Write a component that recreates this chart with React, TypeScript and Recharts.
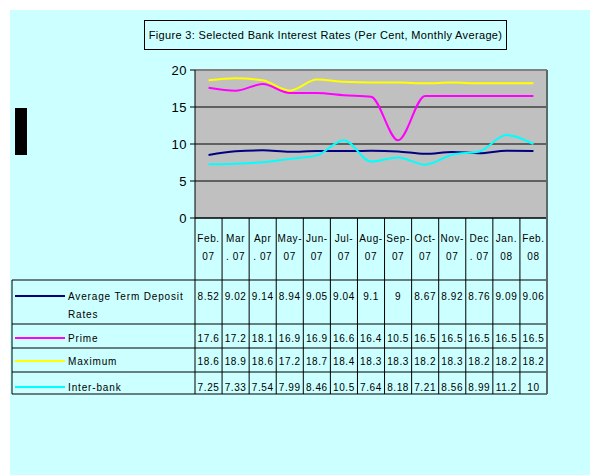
import React from "react";
import { LineChart, Line, XAxis, YAxis, CartesianGrid, ReferenceLine } from "recharts";

const categories = ["Feb. 07", "Mar. 07", "Apr. 07", "May-07", "Jun-07", "Jul-07", "Aug-07", "Sep-07", "Oct-07", "Nov-07", "Dec. 07", "Jan. 08", "Feb. 08"];
const headerTop = ["Feb.", "Mar", "Apr", "May-", "Jun-", "Jul-", "Aug-", "Sep-", "Oct-", "Nov-", "Dec", "Jan.", "Feb."];
const headerBottom = ["07", ". 07", ". 07", "07", "07", "07", "07", "07", "07", "07", ". 07", "08", "08"];

const avgTermDeposit = [8.52, 9.02, 9.14, 8.94, 9.05, 9.04, 9.1, 9, 8.67, 8.92, 8.76, 9.09, 9.06];
const prime = [17.6, 17.2, 18.1, 16.9, 16.9, 16.6, 16.4, 10.5, 16.5, 16.5, 16.5, 16.5, 16.5];
const maximum = [18.6, 18.9, 18.6, 17.2, 18.7, 18.4, 18.3, 18.3, 18.2, 18.3, 18.2, 18.2, 18.2];
const interbank = [7.25, 7.33, 7.54, 7.99, 8.46, 10.5, 7.64, 8.18, 7.21, 8.56, 8.99, 11.2, 10];

const seriesNames = [["Average Term Deposit", "Rates"], ["Prime"], ["Maximum"], ["Inter-bank"]];
const seriesKeys = ["avg", "prime", "max", "inter"];
const seriesColors = ["#000080", "#FF00FF", "#FFFF00", "#00FFFF"];
const seriesValues = [avgTermDeposit, prime, maximum, interbank];
const yTicks = [0, 5, 10, 15, 20];

const data = categories.map((c, i) => ({
  cat: c,
  avg: avgTermDeposit[i],
  prime: prime[i],
  max: maximum[i],
  inter: interbank[i],
}));

const FONT = "'Liberation Sans', Arial, sans-serif";
const CHART_W = 590;
const CHART_H = 475;
const PLOT_LEFT = 195;
const PLOT_RIGHT = 547;
const PLOT_TOP = 70;
const PLOT_BOTTOM = 218;
const HALF = (PLOT_RIGHT - PLOT_LEFT) / categories.length / 2;
const TABLE_LEFT = 12;
const rowLines = [280, 324, 348, 372, 394];
const rowTextY = [[296, 314], [338], [361], [387]];

const ColumnTick = (props: any) => {
  const { x, index } = props;
  const i = index as number;
  const textStyle = { fontFamily: FONT, fontSize: 10, fill: "#000", letterSpacing: 0.6 } as any;
  const legendStyle = { fontFamily: FONT, fontSize: 10, fill: "#000", letterSpacing: 0.85 } as any;
  const left = x - HALF;
  const right = x + HALF;
  return (
    <g>
      <line x1={left} x2={left} y1={PLOT_BOTTOM} y2={rowLines[rowLines.length - 1]} stroke="#000" strokeWidth={1} />
      {i === categories.length - 1 && (
        <line x1={right} x2={right} y1={PLOT_TOP} y2={rowLines[rowLines.length - 1]} stroke="#5a6a6a" strokeWidth={2} />
      )}
      <text x={x} y={242} textAnchor="middle" style={textStyle}>{headerTop[i]}</text>
      <text x={x} y={260} textAnchor="middle" style={textStyle}>{headerBottom[i]}</text>
      {seriesValues.map((vals, r) => (
        <text key={r} x={x} y={rowTextY[r][0] + 3.5} textAnchor="middle" style={textStyle}>
          {String(vals[i])}
        </text>
      ))}
      {i === 0 && (
        <g>
          {rowLines.map((ly, k) => (
            <line key={k} x1={TABLE_LEFT} x2={PLOT_RIGHT} y1={ly} y2={ly} stroke="#000" strokeWidth={1} />
          ))}
          <line x1={TABLE_LEFT} x2={TABLE_LEFT} y1={rowLines[0]} y2={rowLines[rowLines.length - 1]} stroke="#000" strokeWidth={1} />
          {seriesNames.map((names, r) => (
            <g key={r}>
              <line x1={15} x2={65} y1={rowTextY[r][0]} y2={rowTextY[r][0]} stroke={seriesColors[r]} strokeWidth={2} />
              {names.map((nm, k) => (
                <text key={k} x={68} y={rowTextY[r][k] + 3.5} textAnchor="start" style={legendStyle}>{nm}</text>
              ))}
            </g>
          ))}
        </g>
      )}
    </g>
  );
};

export default function App() {
  return (
    <div style={{ position: "absolute", left: 0, top: 0, width: CHART_W, height: CHART_H, background: "#fff" }}>
      <div style={{ position: "absolute", left: 10, top: 10, width: CHART_W - 10, height: CHART_H - 10, background: "#CCFFFF" }} />
      <div style={{ position: "absolute", left: 15, top: 108, width: 12, height: 47, background: "#000" }} />
      <div
        style={{
          position: "absolute",
          left: 144,
          top: 20,
          width: 361,
          height: 28,
          border: "1px solid #000",
          fontFamily: FONT,
          fontSize: 11,
          lineHeight: "28px",
          textAlign: "center",
          color: "#000",
          whiteSpace: "nowrap",
          letterSpacing: 0.35,
        }}
      >
        Figure 3: Selected Bank Interest Rates (Per Cent, Monthly Average)
      </div>
      <div style={{ position: "absolute", left: 0, top: 0 }}>
        <LineChart
          width={CHART_W}
          height={CHART_H}
          data={data}
          margin={{ top: PLOT_TOP, right: CHART_W - PLOT_RIGHT, left: PLOT_LEFT - 30, bottom: CHART_H - PLOT_BOTTOM - 30 }}
        >
          <CartesianGrid vertical={false} stroke="#000" fill="#C0C0C0" fillOpacity={1} />
          <XAxis
            dataKey="cat"
            interval={0}
            height={30}
            padding={{ left: HALF, right: HALF }}
            tickLine={false}
            tickSize={0}
            tickMargin={0}
            axisLine={{ stroke: "#000", strokeWidth: 1 }}
            tick={<ColumnTick />}
          />
          <YAxis
            width={30}
            domain={[0, 20]}
            ticks={yTicks}
            interval={0}
            axisLine={{ stroke: "#000", strokeWidth: 1 }}
            tickLine={{ stroke: "#000" }}
            tickSize={5}
            tickMargin={3}
            tick={{ fill: "#000", fontSize: 13, fontFamily: FONT, letterSpacing: 0.5 }}
          />
          <ReferenceLine y={20} stroke="#808080" strokeWidth={2} />
          {seriesKeys.map((k, r) => (
            <Line
              key={k}
              type="monotone"
              dataKey={k}
              stroke={seriesColors[r]}
              strokeWidth={2}
              dot={false}
              activeDot={false}
              isAnimationActive={false}
            />
          ))}
        </LineChart>
      </div>
    </div>
  );
}
